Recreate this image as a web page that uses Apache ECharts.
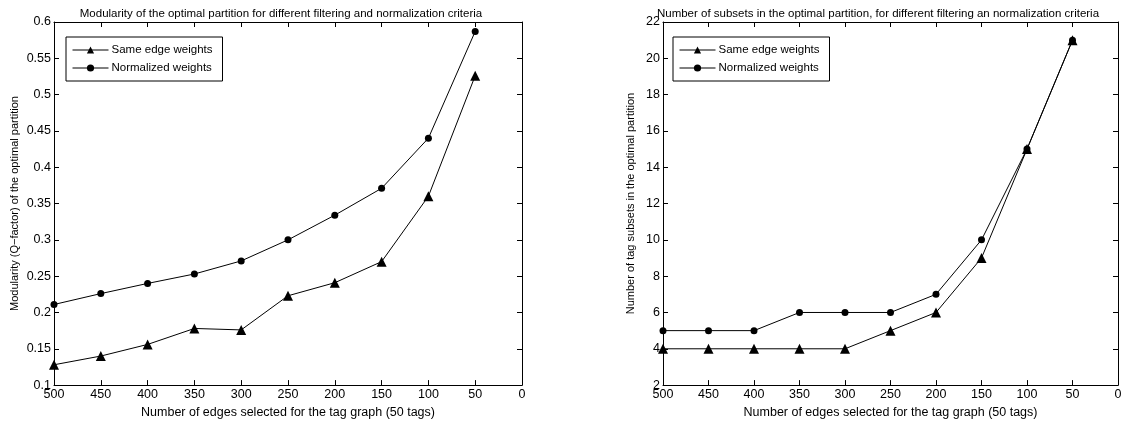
<!DOCTYPE html>
<html>
<head>
<meta charset="utf-8">
<script src="https://cdn.jsdelivr.net/npm/echarts@6/dist/echarts.min.js"></script>
<style>html,body{margin:0;padding:0;background:#fff}#c{width:1138px;height:424px}</style>
</head>
<body>
<div id="c"></div>
<script>
var edges = [500, 450, 400, 350, 300, 250, 200, 150, 100, 50];
var modSame = [0.128, 0.140, 0.156, 0.178, 0.176, 0.223, 0.241, 0.270, 0.360, 0.526];
var modNorm = [0.211, 0.226, 0.240, 0.253, 0.271, 0.300, 0.334, 0.371, 0.440, 0.587];
var subSame = [4, 4, 4, 4, 4, 5, 6, 9, 15, 21];
var subNorm = [5, 5, 5, 6, 6, 6, 7, 10, 15, 21];
var seriesNames = ['Same edge weights', 'Normalized weights'];
var titles = ['Modularity of the optimal partition for different filtering and normalization criteria',
  'Number of subsets in the optimal partition, for different filtering an normalization criteria'];
var yNames = ['Modularity (Q\u2212factor) of the optimal partition', 'Number of tag subsets in the optimal partition'];
var xName = 'Number of edges selected for the tag graph (50 tags)';

function pairs(vals){ return edges.map(function(e,i){ return [e, vals[i]]; }); }
var FONT = 'Liberation Sans, Arial, sans-serif';
var txt = {color:'#000', fontFamily: FONT, fontSize: 12.5};

var grids = [
  {left:54, top:22, width:468, height:370},
  {left:663, top:22, width:455, height:370}
];
var yCfg = [{min:0.1, max:0.6, interval:0.05, gap:34}, {min:2, max:22, interval:2, gap:27}];

var xAxes = [], yAxes = [];
[0,1].forEach(function(g){
  xAxes.push({type:'value', gridIndex:g, min:0, max:500, interval:50, inverse:true,
    name:xName, nameLocation:'middle', nameGap:15, nameTextStyle:txt,
    axisLine:{show:true, onZero:false, lineStyle:{color:'#000', width:1}},
    axisTick:{inside:true, length:5, lineStyle:{color:'#000'}},
    axisLabel:Object.assign({margin:3}, txt), splitLine:{show:false}});
  xAxes.push({type:'value', gridIndex:g, position:'top', min:0, max:500, interval:50, inverse:true,
    axisLine:{show:true, onZero:false, lineStyle:{color:'#000', width:1}},
    axisTick:{inside:true, length:5, lineStyle:{color:'#000'}},
    axisLabel:{show:false}, splitLine:{show:false}});
  var c = yCfg[g];
  yAxes.push({type:'value', gridIndex:g, min:c.min, max:c.max, interval:c.interval,
    name:yNames[g], nameLocation:'middle', nameGap:c.gap, nameTextStyle:Object.assign({}, txt, {fontSize:11}),
    axisLine:{show:true, onZero:false, lineStyle:{color:'#000', width:1}},
    axisTick:{inside:true, length:5, lineStyle:{color:'#000'}},
    axisLabel:Object.assign({margin:3}, txt), splitLine:{show:false}});
  yAxes.push({type:'value', gridIndex:g, position:'right', min:c.min, max:c.max, interval:c.interval,
    axisLine:{show:true, onZero:false, lineStyle:{color:'#000', width:1}},
    axisTick:{inside:true, length:5, lineStyle:{color:'#000'}},
    axisLabel:{show:false}, splitLine:{show:false}});
});

function mk(name, data, g, sym, size){
  return {name:name, type:'line', xAxisIndex:g*2, yAxisIndex:g*2, data:pairs(data),
    symbol:sym, symbolSize:size, showSymbol:true, animation:false,
    lineStyle:{color:'#000', width:1}, itemStyle:{color:'#000'}};
}
var series = [
  mk(seriesNames[0], modSame, 0, 'triangle', 10),
  mk(seriesNames[1], modNorm, 0, 'circle', 7),
  mk(seriesNames[0], subSame, 1, 'triangle', 10),
  mk(seriesNames[1], subNorm, 1, 'circle', 7)
];

function legend(left){
  return {left:left, top:37, orient:'vertical', data:seriesNames, borderColor:'#000', borderWidth:1,
    backgroundColor:'#fff', padding:[7,10,7,6], itemGap:6, itemWidth:36, itemHeight:9,
    lineStyle:{width:1}, textStyle:Object.assign({}, txt, {fontSize:11.5, padding:[0,0,0,-2]})};
}

var chart = echarts.init(document.getElementById('c'), null, {renderer:'canvas'});
chart.setOption({
  animation:false,
  backgroundColor:'#fff',
  title:[
    {text:titles[0], left:276, top:3, textAlign:'center', textStyle:{color:'#000', fontFamily:FONT, fontSize:11.5, fontWeight:'normal'}},
    {text:titles[1], left:873, top:3, textAlign:'center', textStyle:{color:'#000', fontFamily:FONT, fontSize:11.5, fontWeight:'normal'}}
  ],
  legend:[legend(66), legend(673)],
  grid:grids,
  xAxis:xAxes,
  yAxis:yAxes,
  series:series
});
</script>
</body>
</html>
